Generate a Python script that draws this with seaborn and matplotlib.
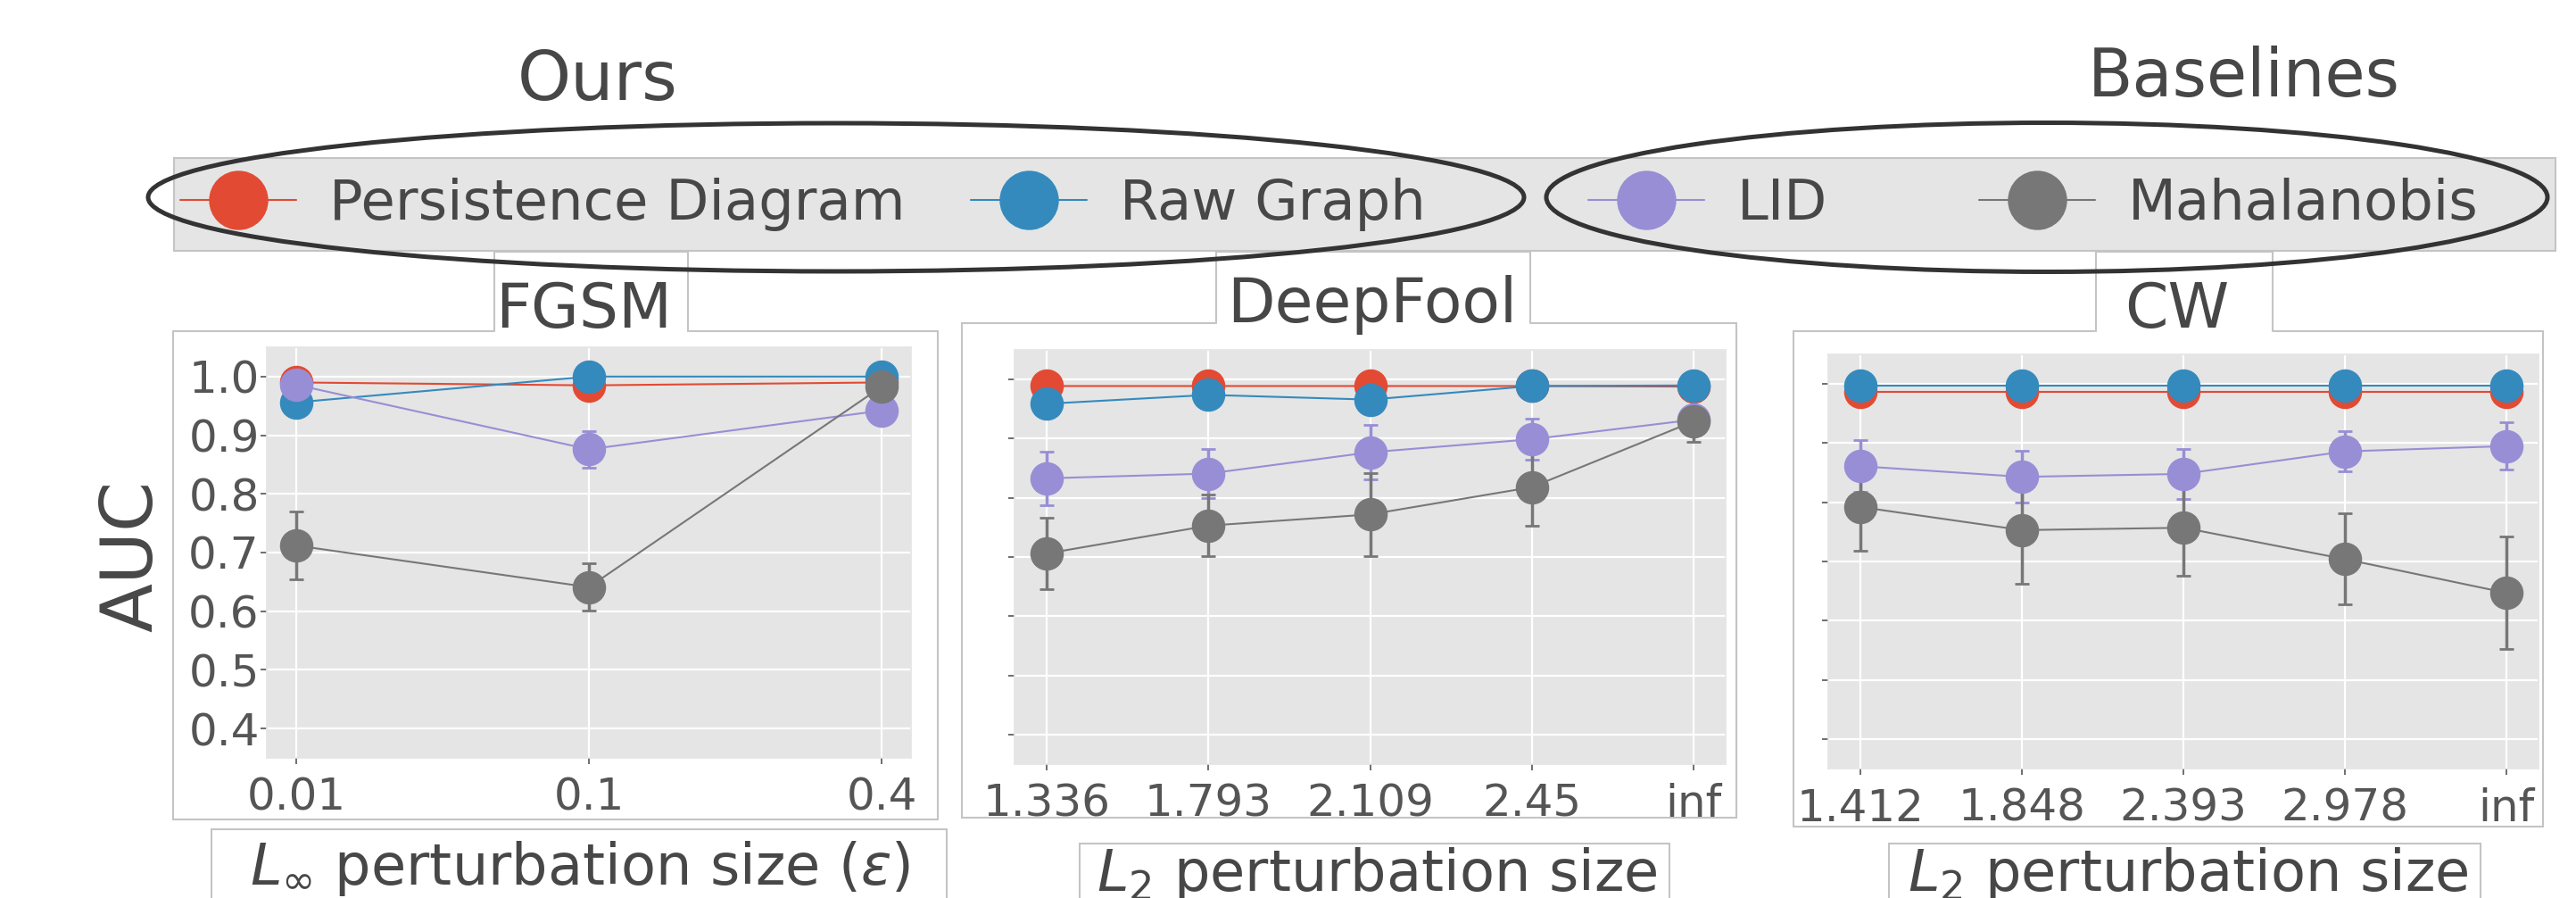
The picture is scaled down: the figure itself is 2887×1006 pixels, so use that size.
import numpy as np
import matplotlib
matplotlib.use("Agg")
import matplotlib.pyplot as plt
import seaborn as sns
from matplotlib.patches import Rectangle, Ellipse
from matplotlib.lines import Line2D
from matplotlib.transforms import Affine2D

# -----------------------------
# data
# -----------------------------
methods = ["Persistence Diagram", "Raw Graph", "LID", "Mahalanobis"]
colors = ["#E24A33", "#348ABD", "#988ED5", "#777777"]

fgsm_sizes = ["0.01", "0.1", "0.4"]
fgsm_pd = [0.990, 0.985, 0.990]
fgsm_pd_err = [0.004, 0.004, 0.003]
fgsm_rg = [0.956, 1.000, 1.000]
fgsm_rg_err = [0.008, 0.002, 0.002]
fgsm_lid = [0.986, 0.876, 0.942]
fgsm_lid_err = [0.010, 0.031, 0.010]
fgsm_mah = [0.712, 0.641, 0.983]
fgsm_mah_err = [0.058, 0.040, 0.010]

deepfool_sizes = ["1.336", "1.793", "2.109", "2.45", "inf"]
deepfool_pd = [0.989, 0.989, 0.989, 0.989, 0.988]
deepfool_pd_err = [0.003, 0.003, 0.003, 0.003, 0.003]
deepfool_rg = [0.959, 0.974, 0.966, 0.989, 0.990]
deepfool_rg_err = [0.005, 0.005, 0.005, 0.003, 0.003]
deepfool_lid = [0.833, 0.841, 0.877, 0.899, 0.932]
deepfool_lid_err = [0.045, 0.041, 0.046, 0.035, 0.012]
deepfool_mah = [0.706, 0.753, 0.772, 0.818, 0.929]
deepfool_mah_err = [0.060, 0.052, 0.070, 0.065, 0.035]

cw_sizes = ["1.412", "1.848", "2.393", "2.978", "inf"]
cw_pd = [0.986, 0.986, 0.986, 0.986, 0.986]
cw_pd_err = [0.003, 0.003, 0.003, 0.003, 0.003]
cw_rg = [0.997, 0.997, 0.997, 0.997, 0.997]
cw_rg_err = [0.002, 0.002, 0.002, 0.002, 0.002]
cw_lid = [0.861, 0.843, 0.848, 0.886, 0.895]
cw_lid_err = [0.044, 0.044, 0.042, 0.034, 0.040]
cw_mah = [0.792, 0.753, 0.757, 0.704, 0.647]
cw_mah_err = [0.074, 0.090, 0.081, 0.077, 0.095]

y_ticks = [0.4, 0.5, 0.6, 0.7, 0.8, 0.9, 1.0]

# -----------------------------
# style
# -----------------------------
sns.set_theme(style="darkgrid", rc={
    "axes.facecolor": "#E5E5E5",
    "axes.edgecolor": "#E5E5E5",
    "grid.color": "white",
    "grid.linewidth": 1.6,
})
plt.rcParams["font.family"] = ["DejaVu Sans"]

TXT = "#474747"
EDGE = "#c4c4c4"

W, H, DPI = 2887, 1006, 100
fig = plt.figure(figsize=(W / DPI, H / DPI), dpi=DPI)
# pixel coordinates of the image, y going down
px = Affine2D().scale(1 / DPI, -1 / DPI).translate(0, H / DPI) + fig.dpi_scale_trans


def add_ax(x0, x1, y0, y1):
    return fig.add_axes([x0 / W, 1 - y1 / H, (x1 - x0) / W, (y1 - y0) / H])


def draw(ax, sizes, series):
    xs = np.arange(len(sizes))
    handles = []
    for (vals, errs), color, label in zip(series, colors, methods):
        h = ax.errorbar(xs, vals, yerr=errs, color=color, marker="o", ms=26,
                        lw=1.5, elinewidth=2.5, capsize=6, capthick=2, label=label)
        handles.append(h)
    ax.set_xticks(xs, sizes)
    ax.set_yticks(y_ticks, [f"{t:.1f}" for t in y_ticks])
    ax.set_ylim(0.35, 1.05)
    ax.tick_params(axis="both", labelsize=36, colors="#555555", length=5,
                   width=1.2, bottom=True, left=True)
    ax.tick_params(axis="x", pad=10)
    ax.tick_params(axis="y", pad=1)
    return handles


ax1 = add_ax(299, 1021, 389, 849)
ax2 = add_ax(1137, 1934, 392, 856)
ax3 = add_ax(2049, 2845, 397, 861)

handles = draw(ax1, fgsm_sizes, [(fgsm_pd, fgsm_pd_err), (fgsm_rg, fgsm_rg_err),
                                 (fgsm_lid, fgsm_lid_err), (fgsm_mah, fgsm_mah_err)])
draw(ax2, deepfool_sizes, [(deepfool_pd, deepfool_pd_err), (deepfool_rg, deepfool_rg_err),
                           (deepfool_lid, deepfool_lid_err), (deepfool_mah, deepfool_mah_err)])
draw(ax3, cw_sizes, [(cw_pd, cw_pd_err), (cw_rg, cw_rg_err),
                     (cw_lid, cw_lid_err), (cw_mah, cw_mah_err)])
ax2.tick_params(axis="y", labelleft=False)
ax3.tick_params(axis="y", labelleft=False)


# -----------------------------
# boxes around panels, titles and labels
# -----------------------------
def rect(x0, y0, x1, y1, fc="white", z=-3):
    fig.add_artist(Rectangle((x0, y0), x1 - x0, y1 - y0, transform=px,
                             facecolor=fc, edgecolor=EDGE, lw=1.5, zorder=z))


def tab(x0, y0, x1, y1):
    # title box open at the bottom, sitting on the panel frame
    fig.add_artist(Line2D([x0 + 1, x1 - 1], [y1, y1], transform=px, color="white",
                          lw=3, zorder=-2))
    fig.add_artist(Line2D([x0, x0, x1, x1], [y1, y0, y0, y1], transform=px,
                          color=EDGE, lw=1.5, zorder=-1))


rect(194, 371, 1051, 918)
rect(1078, 362, 1946, 916)
rect(2010, 371, 2850, 926)
tab(554, 282, 771, 371)
tab(1363, 282, 1715, 362)
tab(2349, 282, 2547, 371)
rect(237, 929, 1061, 1012)
rect(1210, 945, 1871, 1012)
rect(2117, 945, 2780, 1012)
rect(195, 177, 2864, 281, fc="#E5E5E5")

fig.text(654, 367, "FGSM", transform=px, fontsize=50, color=TXT, ha="center", va="baseline")
fig.text(1538, 361, "DeepFool", transform=px, fontsize=50, color=TXT, ha="center", va="baseline")
fig.text(2440, 367, "CW", transform=px, fontsize=50, color=TXT, ha="center", va="baseline")

fig.text(650, 991, r"$L_\infty$ perturbation size ($\varepsilon$)", transform=px,
         fontsize=46, color=TXT, ha="center", va="baseline")
fig.text(1543, 998, r"$L_2$ perturbation size", transform=px,
         fontsize=46, color=TXT, ha="center", va="baseline")
fig.text(2452, 998, r"$L_2$ perturbation size", transform=px,
         fontsize=46, color=TXT, ha="center", va="baseline")

fig.text(148, 623, "AUC", transform=px, fontsize=58, color=TXT, rotation=90,
         ha="center", va="center")
fig.text(670, 112, "Ours", transform=px, fontsize=55, color=TXT, ha="center", va="baseline")
fig.text(2515, 108, "Baselines", transform=px, fontsize=53, color=TXT, ha="center", va="baseline")

# -----------------------------
# legends
# -----------------------------
leg_kw = dict(loc="center left", bbox_transform=px, ncol=2, frameon=False,
              fontsize=45, handlelength=2.08, handletextpad=0.59, borderpad=0,
              borderaxespad=0, markerscale=1.8, labelcolor=TXT)
fig.legend(handles=handles[:2], labels=methods[:2], bbox_to_anchor=(202, 229),
           columnspacing=1.18, **leg_kw)
fig.legend(handles=handles[2:], labels=methods[2:], bbox_to_anchor=(1780, 229),
           columnspacing=2.72, **leg_kw)

fig.add_artist(Ellipse((937, 221), 1542, 166, transform=px, fill=False,
                       edgecolor="#333333", lw=3.6, zorder=10))
fig.add_artist(Ellipse((2294, 221), 1122, 167, transform=px, fill=False,
                       edgecolor="#333333", lw=3.6, zorder=10))

fig.savefig("out.png", dpi=DPI)
